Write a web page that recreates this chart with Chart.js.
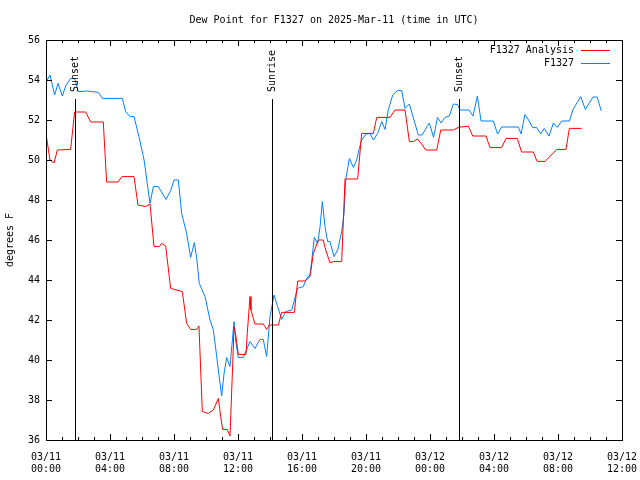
<!DOCTYPE html>
<html>
<head>
<meta charset="utf-8">
<script src="https://cdn.jsdelivr.net/npm/chart.js@4.4.1/dist/chart.umd.min.js"></script>
<style>
  html, body { margin: 0; padding: 0; background: #fff; }
  #wrap { width: 640px; height: 480px; }
</style>
</head>
<body>
<div id="wrap"><canvas id="dewChart" width="640" height="480"></canvas></div>
<script>
// times are hours since 03/11 00:00 UTC
const analysisHours = [0, 0.25, 0.5, 0.71, 1.54, 1.79, 2.48, 2.79, 3.58, 3.79, 4.5, 4.75, 5.5, 5.75, 6.23, 6.5, 6.75,
  7.08, 7.23, 7.48, 7.79, 8.52, 8.79, 9.04, 9.42, 9.56, 9.77, 10.14, 10.46, 10.77, 10.92, 11.04, 11.33, 11.5,
  11.67, 11.75, 11.875, 12.02, 12.5, 12.58, 12.75, 12.81, 13.06, 13.58, 13.79, 13.96, 14.52, 14.73, 15.52,
  15.73, 16.19, 16.5, 16.71, 17.02, 17.33, 17.48, 17.75, 17.96, 18.48, 18.69, 19.48, 19.73, 20.46, 20.67,
  21.5, 21.81, 22.44, 22.71, 22.96, 23.21, 23.48, 23.73, 24.42, 24.67, 25.46, 25.77, 26.39, 26.67, 27.5,
  27.75, 28.48, 28.75, 29.46, 29.72, 30.46, 30.69, 31.19, 31.92, 32.5, 32.71, 33.48];
const analysisDew = [51.3, 50.0, 49.85, 50.5, 50.53, 52.4, 52.4, 51.9, 51.9, 48.9, 48.9, 49.17, 49.17, 47.75, 47.67, 47.8, 45.67,
  45.67, 45.83, 45.7, 43.58, 43.42, 41.83, 41.53, 41.53, 41.7, 37.42, 37.33, 37.5, 38.08, 37.17, 36.53, 36.53, 36.2,
  39.83, 41.67, 41.17, 40.28, 40.28, 41.33, 43.17, 42.5, 41.8, 41.8, 41.53, 41.75, 41.75, 42.38, 42.38,
  43.95, 43.95, 44.17, 45.33, 46.0, 46.0, 45.5, 44.87, 44.92, 44.92, 49.05, 49.05, 51.33, 51.33, 52.13,
  52.13, 52.5, 52.5, 50.92, 50.92, 51.05, 50.8, 50.5, 50.5, 51.5, 51.5, 51.63, 51.7, 51.2, 51.2,
  50.62, 50.62, 51.08, 51.08, 50.4, 50.4, 49.93, 49.93, 50.53, 50.53, 51.58, 51.58];

const obsHours = [0, 0.25, 0.54, 0.75, 1.02, 1.23, 1.54, 1.79, 2.02, 2.58, 3.27, 3.52, 4.77, 4.98, 5.25, 5.5, 5.81,
  6.13, 6.33, 6.5, 6.71, 7.02, 7.5, 7.79, 8.0, 8.27, 8.48, 8.79, 9.04, 9.27, 9.42, 9.58, 9.94, 10.25, 10.46,
  10.67, 10.77, 10.98, 11.13, 11.29, 11.5, 11.75, 11.875, 12.02, 12.33, 12.75, 13.06, 13.38, 13.58, 13.79,
  14.0, 14.25, 14.48, 14.73, 14.98, 15.36, 15.71, 16.08, 16.29, 16.5, 16.6, 16.77, 16.98, 17.13, 17.27,
  17.44, 17.6, 17.75, 18.0, 18.23, 18.48, 18.63, 18.73, 18.96, 19.21, 19.42, 19.58, 19.73, 20.0, 20.25,
  20.46, 20.73, 20.98, 21.19, 21.39, 21.67, 21.96, 22.23, 22.44, 22.71, 22.96, 23.27, 23.5, 23.96, 24.22,
  24.47, 24.69, 24.94, 25.21, 25.46, 25.72, 25.88, 26.44, 26.69, 26.96, 27.19, 27.96, 28.22, 28.48, 29.52,
  29.69, 29.94, 30.16, 30.42, 30.67, 30.92, 31.14, 31.44, 31.71, 31.96, 32.23, 32.72, 32.92, 33.42, 33.71,
  34.19, 34.44, 34.71];
const obsDew = [53.9, 54.25, 53.25, 53.83, 53.2, 53.7, 54.08, 54.08, 53.42, 53.45, 53.38, 53.08, 53.08, 52.42, 52.17, 52.17, 51.17,
  50.0, 48.83, 47.83, 48.67, 48.67, 48.03, 48.47, 49.0, 49.0, 47.33, 46.33, 45.13, 45.87, 45.08, 43.83, 43.17, 42.0, 41.5,
  40.17, 39.5, 38.2, 39.33, 40.12, 39.67, 41.92, 40.83, 40.13, 40.13, 40.92, 40.58, 41.03, 41.03, 40.17,
  42.17, 43.25, 42.67, 42.03, 42.42, 42.5, 43.58, 43.67, 44.08, 44.25, 44.92, 46.13, 45.83, 46.67, 47.92,
  46.67, 45.92, 45.92, 45.17, 45.5, 46.42, 47.33, 49.0, 50.08, 49.63, 50.0, 50.58, 51.0, 51.3, 51.33,
  51.0, 51.33, 51.92, 51.53, 52.5, 53.25, 53.47, 53.47, 52.58, 52.8, 52.1, 51.25, 51.25, 51.85, 51.13,
  52.13, 51.85, 52.13, 52.2, 52.8, 52.77, 52.5, 52.5, 52.2, 53.2, 51.95, 51.95, 51.3, 51.65, 51.65,
  51.3, 52.28, 52.0, 51.62, 51.62, 51.3, 51.58, 51.2, 51.85, 51.63, 51.95, 51.95, 52.5, 53.17, 52.53,
  53.15, 53.15, 52.45];

const eventHours = [1.83, 14.14, 25.83];
const eventNames = ["Sunset", "Sunrise", "Sunset"];

const FONT = "'DejaVu Sans Mono', 'Liberation Mono', monospace";

function pad(n) { return String(n).padStart(2, "0"); }
function hourLabel(h) {
  const day = 11 + Math.floor(h / 24);
  return ["03/" + day, pad(h % 24) + ":00"];
}

// gnuplot style frame, inward ticks, sun events, legend
const framePlugin = {
  id: "frame",
  afterDatasetsDraw(chart) {
    const { ctx, chartArea: a, scales: { x, y } } = chart;
    ctx.save();
    ctx.strokeStyle = "#000";
    ctx.lineWidth = 1;
    ctx.beginPath();
    for (let h = 0; h <= 36; h++) {
      const px = Math.round(x.getPixelForValue(h)) + 0.5;
      const len = h % 4 === 0 ? 6 : 3;
      ctx.moveTo(px, a.bottom); ctx.lineTo(px, a.bottom - len);
      ctx.moveTo(px, a.top); ctx.lineTo(px, a.top + len);
    }
    for (let v = 36; v <= 56; v += 2) {
      const py = Math.round(y.getPixelForValue(v)) + 0.5;
      ctx.moveTo(a.left, py); ctx.lineTo(a.left + 6, py);
      ctx.moveTo(a.right, py); ctx.lineTo(a.right - 6, py);
    }
    eventHours.forEach(h => {
      const px = Math.round(x.getPixelForValue(h)) + 0.5;
      ctx.moveTo(px, a.top + 59); ctx.lineTo(px, a.bottom);
    });
    ctx.stroke();
    ctx.strokeRect(a.left + 0.5, a.top + 0.5, a.right - a.left, a.bottom - a.top);

    ctx.fillStyle = "#000";
    ctx.font = "10px " + FONT;
    eventHours.forEach((h, i) => {
      const px = Math.round(x.getPixelForValue(h)) + 0.5;
      ctx.save();
      ctx.translate(px, a.top + 52);
      ctx.rotate(-Math.PI / 2);
      ctx.textAlign = "left";
      ctx.textBaseline = "middle";
      ctx.fillText(eventNames[i], 0, 0);
      ctx.restore();
    });

    ctx.textAlign = "right";
    ctx.textBaseline = "middle";
    chart.data.datasets.forEach((ds, i) => {
      const ly = a.top + 9.5 + i * 13.5;
      ctx.fillStyle = "#000";
      ctx.fillText(ds.label, a.right - 48, ly + 0.5);
      ctx.strokeStyle = ds.borderColor;
      ctx.beginPath();
      ctx.moveTo(a.right - 41, Math.round(ly) + 0.5);
      ctx.lineTo(a.right - 12, Math.round(ly) + 0.5);
      ctx.stroke();
    });
    ctx.restore();
  }
};

const ctx = document.getElementById("dewChart");
new Chart(ctx, {
  type: "line",
  data: {
    datasets: [
      {
        label: "F1327 Analysis",
        data: analysisHours.map((h, i) => ({ x: h, y: analysisDew[i] })),
        borderColor: "rgb(255, 0, 0)",
        borderWidth: 1,
        pointRadius: 0,
        tension: 0
      },
      {
        label: "F1327",
        data: obsHours.map((h, i) => ({ x: h, y: obsDew[i] })),
        borderColor: "rgb(0, 128, 255)",
        borderWidth: 1,
        pointRadius: 0,
        tension: 0
      }
    ]
  },
  options: {
    responsive: false,
    animation: false,
    events: [],
    layout: { padding: { top: 0, right: 18, bottom: 0, left: 0 } },
    plugins: {
      legend: { display: false },
      tooltip: { enabled: false },
      title: {
        display: true,
        fullSize: false,
        text: "Dew Point for F1327 on 2025-Mar-11 (time in UTC)",
        color: "#000",
        font: { family: FONT, size: 10, weight: "normal" },
        padding: { top: 14, bottom: 14 }
      }
    },
    scales: {
      x: {
        type: "linear",
        min: 0,
        max: 36,
        afterFit: s => { s.height = 40; s.paddingLeft = 0; s.paddingRight = 0; },
        afterBuildTicks: s => { s.ticks = [0, 4, 8, 12, 16, 20, 24, 28, 32, 36].map(v => ({ value: v })); },
        grid: { display: false, drawTicks: false },
        border: { display: false },
        ticks: {
          color: "#000",
          font: { family: FONT, size: 10 },
          padding: 11,
          maxRotation: 0,
          autoSkip: false,
          callback: v => hourLabel(v)
        }
      },
      y: {
        min: 36,
        max: 56,
        afterFit: s => { s.width = 46; },
        grid: { display: false, drawTicks: false },
        border: { display: false },
        title: {
          display: true,
          text: "degrees F",
          color: "#000",
          font: { family: FONT, size: 10 },
          padding: { top: 4, bottom: 0 }
        },
        ticks: {
          color: "#000",
          font: { family: FONT, size: 10 },
          padding: 6,
          stepSize: 2
        }
      }
    }
  },
  plugins: [framePlugin]
});
</script>
</body>
</html>
